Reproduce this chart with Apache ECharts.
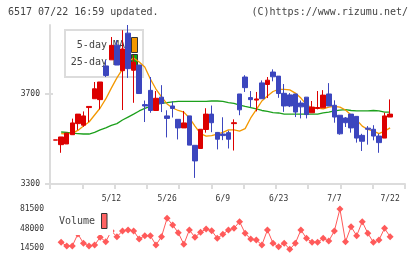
<!DOCTYPE html>
<html><head><meta charset="utf-8">
<script src="https://cdn.jsdelivr.net/npm/echarts@6/dist/echarts.min.js"></script>
<style>html,body{margin:0;padding:0;background:#fff}#c{width:420px;height:259px}</style>
</head><body><div id="c"></div>
<script>
const dates = ['4/22','4/23','4/24','4/25','4/28','4/30','5/1','5/2','5/7','5/8','5/9','5/12','5/13','5/14','5/15','5/16','5/19','5/20','5/21','5/22','5/23','5/26','5/27','5/28','5/29','5/30','6/2','6/3','6/4','6/5','6/6','6/9','6/10','6/11','6/12','6/13','6/16','6/17','6/18','6/19','6/20','6/23','6/24','6/25','6/26','6/27','6/30','7/1','7/2','7/3','7/4','7/7','7/8','7/9','7/10','7/11','7/14','7/15','7/16','7/17','7/18','7/22'];
const tickLabels = ['5/12','5/26','6/9','6/23','7/7','7/22'];
const priceTicks = [3300, 3700];
const volumeTicks = [14500, 48000, 81500];

const opens  = [null,3494,3474,3477,3518,3567,3560,3638,3677,3673,3822,3849,3914,3801,3967,3803,3826,3651,3714,3625,3684,3601,3645,3586,3548,3601,3471,3457,3541,3609,3528,3521,3527,3567,3698,3773,3682,3671,3747,3740,3795,3777,3701,3694,3698,3658,3684,3615,3634,3637,3698,3648,3604,3592,3609,3599,3515,3547,3542,3512,3503,3596];
const closes = [null,3495,3508,3525,3570,3609,3601,3643,3721,3751,3780,3913,3826,3897,3810,3839,3700,3645,3625,3679,3656,3590,3634,3548,3570,3472,3402,3542,3609,3571,3498,3514,3498,3571,3628,3726,3673,3676,3677,3759,3774,3700,3645,3645,3618,3641,3607,3640,3638,3693,3645,3596,3522,3571,3548,3503,3489,3542,3512,3483,3601,3609];
const lows   = [null,3494,3438,3477,3518,3539,3553,3574,3677,3630,3773,3849,3826,3627,3769,3659,3700,3574,3615,3625,3618,3506,3594,3497,3548,3472,3327,3457,3527,3529,3453,3494,3457,3448,3604,3707,3640,3621,3677,3680,3754,3681,3619,3640,3596,3590,3590,3615,3630,3637,3645,3571,3518,3552,3527,3483,3446,3474,3493,3438,3503,3596];
const highs  = [null,3495,3508,3525,3589,3609,3621,3643,3751,3751,3848,3950,3936,3980,4003,3870,3826,3669,3773,3711,3737,3626,3665,3586,3623,3601,3471,3542,3635,3647,3530,3595,3536,3586,3698,3781,3711,3707,3758,3773,3807,3777,3742,3702,3698,3669,3684,3667,3711,3715,3746,3670,3604,3596,3609,3599,3522,3556,3560,3522,3615,3674];

const ma5  = [null,null,3523,3521,3525,3537,3556,3574,3605,3636,3676,3724,3769,3808,3839,3857,3839,3817,3764,3720,3685,3654,3636,3625,3618,3592,3556,3523,3512,3514,3521,3528,3539,3539,3534,3545,3592,3629,3667,3689,3709,3718,3718,3716,3702,3680,3651,3636,3636,3632,3640,3643,3640,3627,3605,3583,3556,3541,3534,3523,3534,3548];
const ma25 = [null,null,3530,3528,3525,3523,3521,3521,3528,3539,3548,3559,3567,3583,3596,3609,3623,3634,3643,3651,3656,3660,3663,3665,3665,3665,3665,3665,3665,3667,3667,3665,3660,3656,3649,3643,3638,3632,3625,3621,3616,3614,3609,3609,3609,3609,3609,3609,3609,3614,3618,3623,3627,3629,3625,3623,3623,3623,3625,3623,3618,3618];

const volumes = [null,null,24700,18400,18400,38700,23000,18400,20100,33100,25700,43800,34100,43800,45500,43800,30200,35800,35800,20100,34100,65300,53900,40900,21300,45500,33100,41600,47200,44300,31400,38200,45500,48300,59500,39900,30200,28500,20100,45500,23000,17200,23000,12800,23000,45500,31400,24700,24700,31400,26900,43800,81000,25700,51000,35800,59500,39900,24700,28500,48300,34100];

const RED = '#dc0000', BLUE = '#3c46be', ORANGE = '#f39800', GREEN = '#1ca01c', VOL = '#ff5a5a', AXIS = '#dcdcdc';
const mono = '"DejaVu Sans Mono", monospace';
const XMAX = 63.67, YMAX = 4003;

const candleData = [];
for (let i = 0; i < dates.length; i++) {
  if (opens[i] != null) candleData.push([i, opens[i], closes[i], lows[i], highs[i]]);
}
const toXY = arr => arr.map((v, i) => [i, v]);
const labelIdx = tickLabels.map(t => dates.indexOf(t));
const plain = v => String(Math.round(v));

const chart = echarts.init(document.getElementById('c'), null, {renderer: 'canvas'});
chart.setOption({
  animation: false,
  backgroundColor: '#fff',
  grid: [
    {left: 50, right: 15, top: 25, height: 159},
    {left: 50, right: 15, top: 208.7, height: 39.6}
  ],
  xAxis: [
    {gridIndex: 0, type: 'value', min: 0, max: XMAX, position: 'bottom',
     axisLine: {show: false, onZero: false}, axisTick: {show: false}, splitLine: {show: false},
     axisLabel: {customValues: labelIdx, formatter: v => dates[Math.round(v)], fontFamily: mono, fontSize: 8, color: '#333', margin: 11}},
    {gridIndex: 0, type: 'value', min: 0, max: 11, interval: 1, position: 'bottom',
     axisLine: {show: true, onZero: false, lineStyle: {color: AXIS, width: 2}},
     axisTick: {show: true, length: 5, lineStyle: {color: AXIS, width: 2}},
     axisLabel: {show: false}, splitLine: {show: false}},
    {gridIndex: 1, type: 'value', min: 0, max: XMAX, show: false}
  ],
  yAxis: [
    {gridIndex: 0, type: 'value', min: 3300, max: YMAX, position: 'left',
     axisLine: {show: true, onZero: false, lineStyle: {color: AXIS, width: 2}},
     axisTick: {show: true, length: 5, customValues: priceTicks, lineStyle: {color: AXIS, width: 2}},
     axisLabel: {customValues: priceTicks, formatter: plain, fontFamily: mono, fontSize: 8, color: '#333', margin: 10},
     splitLine: {show: false}},
    {gridIndex: 0, type: 'value', min: 3300, max: YMAX, position: 'left',
     axisLine: {show: false, onZero: false},
     axisTick: {show: true, inside: true, length: 3, customValues: [3700], lineStyle: {color: AXIS, width: 2}},
     axisLabel: {show: false}, splitLine: {show: false}},
    {gridIndex: 1, type: 'value', min: 14500, max: 81500, position: 'left',
     axisLine: {show: false, onZero: false}, axisTick: {show: false},
     axisLabel: {customValues: volumeTicks, formatter: plain, fontFamily: mono, fontSize: 8, color: '#333', margin: 6},
     splitLine: {show: false}}
  ],
  graphic: [
    {type: 'text', x: 8, y: 12.5, z: 1, style: {text: '6517 07/22 16:59 updated.', fontFamily: mono, fontSize: 10, fill: '#444', align: 'left', verticalAlign: 'middle'}},
    {type: 'text', x: 408, y: 12.5, z: 1, style: {text: '(C)https://www.rizumu.net/', fontFamily: mono, fontSize: 10, fill: '#444', align: 'right', verticalAlign: 'middle'}},
    {type: 'rect', z: 0, shape: {x: 65, y: 30, width: 78, height: 47}, style: {fill: '#fff', stroke: AXIS, lineWidth: 2}},
    {type: 'text', x: 125, y: 45.5, z: 0, style: {text: '5-day MA', fontFamily: mono, fontSize: 10, fill: '#444', align: 'right', verticalAlign: 'middle'}},
    {type: 'text', x: 125, y: 62.5, z: 0, style: {text: '25-day MA', fontFamily: mono, fontSize: 10, fill: '#444', align: 'right', verticalAlign: 'middle'}},
    {type: 'rect', z: 0, shape: {x: 131.5, y: 37.5, width: 6, height: 15}, style: {fill: ORANGE, stroke: '#333', lineWidth: 1}},
    {type: 'rect', z: 0, shape: {x: 131.5, y: 54.5, width: 6, height: 14}, style: {fill: '#10a810', stroke: '#333', lineWidth: 1}},
    {type: 'rect', z: 50, shape: {x: 56, y: 209, width: 57, height: 26}, style: {fill: '#fff'}},
    {type: 'text', x: 59, y: 221.5, z: 51, style: {text: 'Volume', fontFamily: mono, fontSize: 10, fill: '#444', align: 'left', verticalAlign: 'middle'}},
    {type: 'rect', z: 51, shape: {x: 101.5, y: 213.5, width: 5.5, height: 15}, style: {fill: '#ff6464', stroke: '#333', lineWidth: 1}}
  ],
  series: [
    {type: 'line', xAxisIndex: 0, yAxisIndex: 0, data: toXY(ma25), showSymbol: false, connectNulls: false, clip: false,
     lineStyle: {color: GREEN, width: 1.3}, z: 2},
    {type: 'line', xAxisIndex: 0, yAxisIndex: 0, data: toXY(ma5), showSymbol: false, connectNulls: false, clip: false,
     lineStyle: {color: ORANGE, width: 1.3}, z: 2},
    {type: 'candlestick', xAxisIndex: 0, yAxisIndex: 0, data: candleData, encode: {x: 0, y: [1, 2, 3, 4]},
     barWidth: 5, clip: false,
     itemStyle: {color: RED, color0: BLUE, borderColor: RED, borderColor0: BLUE, borderWidth: 1}, z: 3},
    {type: 'line', xAxisIndex: 2, yAxisIndex: 2, data: toXY(volumes), symbol: 'diamond', symbolSize: 7,
     showSymbol: true, connectNulls: false, clip: false,
     lineStyle: {color: VOL, width: 1}, itemStyle: {color: VOL}, z: 3}
  ]
});
</script>
</body></html>
